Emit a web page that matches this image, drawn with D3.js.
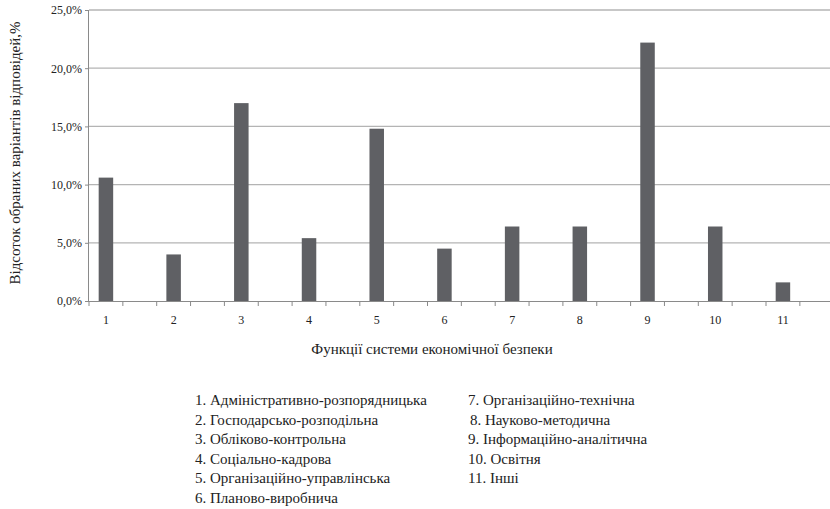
<!DOCTYPE html>
<html><head><meta charset="utf-8">
<script src="https://cdn.jsdelivr.net/npm/d3@7"></script>
<style>body{margin:0;background:#fff}svg{display:block}</style>
</head><body>
<svg id="c" width="830" height="509"></svg>
<script>
const categories = ["1","2","3","4","5","6","7","8","9","10","11"];
const values = [10.6, 4.0, 17.0, 5.4, 14.8, 4.5, 6.4, 6.4, 22.2, 6.4, 1.6];
const yTicks = [0, 5, 10, 15, 20, 25];
const legendLeft = ["1. Адміністративно-розпорядницька","2. Господарсько-розподільна","3. Обліково-контрольна","4. Соціально-кадрова","5. Організаційно-управлінська","6. Планово-виробнича"];
const legendRight = ["7. Організаційно-технічна","8. Науково-методична","9. Інформаційно-аналітична","10. Освітня","11. Інші"];
const xTitle = "Функції системи економічної безпеки";
const yTitle = "Відсоток обраних варіантів відповідей,%";

const FF = '"Liberation Serif"';
const svg = d3.select("#c");
const L = 89, T = 10, B = 301, R = 89 + 11*67.7;
const x = d3.scaleBand().domain(categories).range([L, R]).padding(0);
const y = d3.scaleLinear().domain([0, 25]).range([B, T]);
const bw = x.bandwidth();
const barW = 14.5;

svg.append("g").selectAll("line").data(yTicks.filter(d=>d>0)).join("line")
  .attr("x1", L).attr("x2", R).attr("y1", d=>y(d)).attr("y2", d=>y(d))
  .attr("stroke", "#b4b4b4").attr("stroke-width", 1.3);

svg.append("g").selectAll("rect").data(values).join("rect")
  .attr("x", (d,i)=>x(categories[i]) + bw/4 - barW/2)
  .attr("width", barW)
  .attr("y", d=>y(d)).attr("height", d=>B - y(d))
  .attr("fill", "#5f6064");

const fmt = d => d.toFixed(1).replace(".", ",") + "%";
const yAxis = d3.axisLeft(y).tickValues(yTicks).tickFormat(fmt).tickSize(4).tickPadding(3);
const gy = svg.append("g").attr("transform", `translate(${L},0)`).call(yAxis);
gy.select(".domain").attr("stroke", "#8a8a8a").attr("d", `M-0.5,${T}V${B}`);
gy.selectAll(".tick line").attr("stroke", "#8a8a8a");
gy.selectAll("text").style("font-family", FF).style("font-size", "12px").attr("fill", "#222");

const tickPos = [];
categories.forEach(c => { tickPos.push(x(c)); tickPos.push(x(c) + bw/2); });
tickPos.push(R);
svg.append("line").attr("x1", L).attr("x2", R).attr("y1", B+0.5).attr("y2", B+0.5).attr("stroke", "#8a8a8a");
svg.append("g").selectAll("line").data(tickPos).join("line")
  .attr("x1", d=>d).attr("x2", d=>d).attr("y1", B).attr("y2", B+5).attr("stroke", "#8a8a8a");
svg.append("g").selectAll("text").data(categories).join("text")
  .attr("x", c => x(c) + bw/4).attr("y", 324)
  .attr("text-anchor", "middle").style("font-family", FF).style("font-size", "12px").attr("fill", "#222")
  .text(d=>d);

svg.append("text").attr("x", 432).attr("y", 354).attr("text-anchor", "middle")
  .style("font-family", FF).style("font-size", "15px").attr("fill", "#222").text(xTitle);
svg.append("text").attr("transform", "translate(20,153) rotate(-90)").attr("text-anchor", "middle")
  .style("font-family", FF).style("font-size", "15px").attr("fill", "#222").text(yTitle);

svg.append("g").selectAll("text").data(legendLeft).join("text")
  .attr("x", 195).attr("y", (d,i)=>405 + i*19.6)
  .style("font-family", FF).style("font-size", "15px").attr("fill", "#222").text(d=>d);
svg.append("g").selectAll("text").data(legendRight).join("text")
  .attr("x", (d,i)=> i===1 ? 470 : 468).attr("y", (d,i)=>405 + i*19.6)
  .style("font-family", FF).style("font-size", "15px").attr("fill", "#222").text(d=>d);
</script>
</body></html>
